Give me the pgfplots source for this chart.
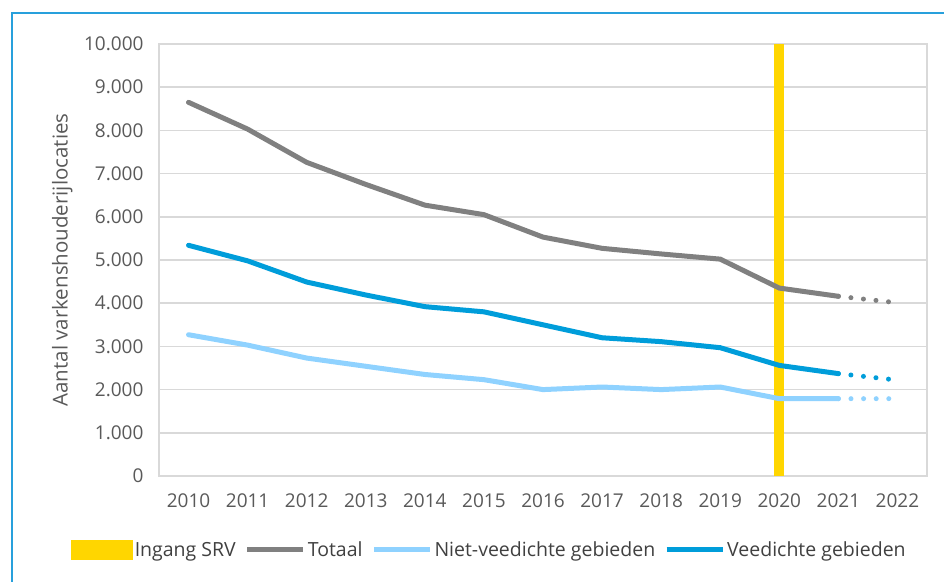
\documentclass[border=0pt]{standalone}
\usepackage{fontspec}
\setmainfont{Open Sans}
\usepackage{pgfplots}
\pgfplotsset{compat=1.18}
\definecolor{srvyellow}{RGB}{255,214,0}
\definecolor{totgray}{RGB}{128,128,128}
\definecolor{nietblue}{RGB}{143,210,255}
\definecolor{veeblue}{RGB}{0,157,218}
\definecolor{gridgray}{RGB}{217,217,217}
\definecolor{txtgray}{RGB}{89,89,89}
\definecolor{legtxt}{RGB}{64,64,64}
\definecolor{framecol}{RGB}{40,160,220}

\pgfplotsset{
  lineleg/.style={legend image code/.code={\draw[#1, line width=5pt, line cap=butt] (0pt,0pt) -- (56pt,0pt);}},
  rectleg/.style={legend image code/.code={\fill[#1] (0pt,-5pt) rectangle (52pt,5pt);}},
}

\begin{document}
\begin{tikzpicture}
\useasboundingbox (0,0) rectangle (944pt,581pt);
\draw[overlay, framecol, line width=1.3pt] (12pt,-20pt) -- (12pt,568pt) -- (970pt,568pt);
\begin{axis}[
  at={(159pt,105pt)}, anchor=south west,
  scale only axis, width=768pt, height=432pt,
  font=\fontsize{19}{22}\selectfont,
  xmin=-0.5, xmax=12.5, ymin=0, ymax=10000,
  xtick={0,...,12},
  xticklabels={2010,2011,2012,2013,2014,2015,2016,2017,2018,2019,2020,2021,2022},
  ytick={0,1000,...,10000},
  scaled y ticks=false,
  major tick length=0pt,
  ymajorgrids, grid style={gridgray, line width=1.5pt},
  axis line style={gridgray, line width=1.5pt},
  tick label style={txtgray},
  xticklabel style={yshift=-14pt},
  yticklabel style={xshift=-12pt},
  /pgf/number format/fixed,
  /pgf/number format/precision=0,
  /pgf/number format/1000 sep={.},
  /pgf/number format/assume math mode=true,
  ylabel={Aantal varkenshouderijlocaties},
  ylabel style={at={(axis description cs:-0.126,0.5)}, anchor=center, txtgray,
    font=\fontsize{20.5}{24}\selectfont},
  legend columns=4,
  legend style={draw=none, fill=none, at={(axis description cs:0.43,-0.171)}, anchor=center,
    font=\fontsize{19.5}{23}\selectfont, text=legtxt,
    /tikz/every even column/.append style={column sep=7pt},
    inner sep=0pt, cells={anchor=west}},
]
% vertical marker at 2020
\addplot[srvyellow, line width=10pt, line cap=butt, rectleg=srvyellow]
  coordinates {(10,0) (10,10000)};
\addlegendentry{Ingang SRV}

\addplot[totgray, line width=5pt, line cap=round, lineleg=totgray]
  coordinates {(0,8650) (1,8030) (2,7260) (3,6750) (4,6270) (5,6050) (6,5530) (7,5270) (8,5140) (9,5020) (10,4350) (11,4160)};
\addlegendentry{Totaal}

\addplot[nietblue, line width=5pt, line cap=round, lineleg=nietblue]
  coordinates {(0,3270) (1,3030) (2,2730) (3,2540) (4,2350) (5,2230) (6,2000) (7,2060) (8,2000) (9,2060) (10,1790) (11,1790)};
\addlegendentry{Niet-veedichte gebieden}

\addplot[veeblue, line width=5pt, line cap=round, lineleg=veeblue]
  coordinates {(0,5340) (1,4980) (2,4490) (3,4190) (4,3920) (5,3800) (6,3500) (7,3200) (8,3110) (9,2970) (10,2560) (11,2370)};
\addlegendentry{Veedichte gebieden}

% dotted projections 2021 -> 2022
\addplot[forget plot, totgray, line width=5pt, line cap=round, dash pattern=on 0pt off 12.6pt]
  coordinates {(11,4160) (12,4010)};
\addplot[forget plot, nietblue, line width=5pt, line cap=round, dash pattern=on 0pt off 12.6pt]
  coordinates {(11,1790) (12,1790)};
\addplot[forget plot, veeblue, line width=5pt, line cap=round, dash pattern=on 0pt off 12.6pt]
  coordinates {(11,2370) (12,2220)};
\end{axis}
\end{tikzpicture}
\end{document}
